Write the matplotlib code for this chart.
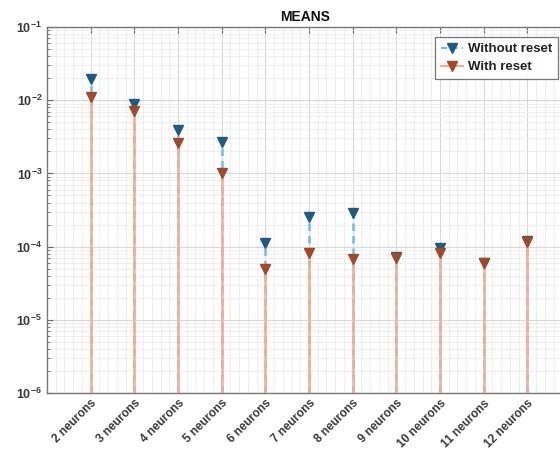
import numpy as np
import matplotlib.pyplot as plt
from matplotlib.ticker import LogLocator, MultipleLocator, NullFormatter

# Data
labels = ['2 neurons', '3 neurons', '4 neurons', '5 neurons', '6 neurons', '7 neurons',
          '8 neurons', '9 neurons', '10 neurons', '11 neurons', '12 neurons']
without_reset = [1.95e-2, 8.9e-3, 3.9e-3, 2.7e-3, 1.12e-4, 2.55e-4, 2.9e-4,
                 7.2e-5, 9.7e-5, 5.9e-5, 1.2e-4]
with_reset = [1.1e-2, 7.1e-3, 2.6e-3, 1.0e-3, 5.0e-5, 8.3e-5, 6.8e-5,
              7.0e-5, 8.3e-5, 6.0e-5, 1.17e-4]

BASE = 1e-6
TXT = '#3a3a3a'
BLUE_LINE = '#6cc0e8'
BLUE_FACE = '#1f5a85'
RED_LINE = '#f4ad96'
RED_FACE = '#a04a2c'

plt.rcParams['font.family'] = ['Liberation Sans', 'DejaVu Sans']

fig = plt.figure(figsize=(5.6, 4.61), dpi=100)
ax = fig.add_axes([47 / 560, 68 / 461, 524 / 560, 366 / 461])

x = np.arange(1, len(labels) + 1)

# blue stems (dashed) drawn first, red stems on top
for xi, v in zip(x, without_reset):
    ax.plot([xi, xi], [BASE, v], color=BLUE_LINE, lw=1.8, ls=(0, (3, 2)), zorder=2)
for xi, v in zip(x, with_reset):
    ax.plot([xi, xi], [BASE, v], color=RED_LINE, lw=1.8, zorder=3)

ax.plot(x, without_reset, ls='none', marker='v', ms=7.5, mfc=BLUE_FACE,
        mec=BLUE_FACE, zorder=4)
ax.plot(x, with_reset, ls='none', marker='v', ms=7.5, mfc=RED_FACE,
        mec=RED_FACE, zorder=5)

# legend proxies
h1, = ax.plot([], [], color=BLUE_LINE, ls=(0, (3, 2)), lw=1.5, marker='v', ms=7,
              mfc=BLUE_FACE, mec=BLUE_FACE)
h2, = ax.plot([], [], color=RED_LINE, lw=1.5, marker='v', ms=7,
              mfc=RED_FACE, mec=RED_FACE)
leg = ax.legend([h1, h2], ['Without reset', 'With reset'], loc='upper right',
                bbox_to_anchor=(558 / 560, 1 - 37 / 461), bbox_transform=fig.transFigure,
                prop={'weight': 'bold', 'size': 9.5}, frameon=True, fancybox=False,
                handlelength=1.6, handletextpad=0.4, borderpad=0.45, labelspacing=0.45,
                borderaxespad=0)
leg.get_frame().set_edgecolor('#555555')
leg.get_frame().set_linewidth(0.9)
for t in leg.get_texts():
    t.set_color('#222222')

ax.set_yscale('log')
ax.set_ylim(1e-6, 1e-1)
ax.set_xlim(0, 12)
ax.yaxis.set_major_locator(LogLocator(base=10, numticks=10))
ax.yaxis.set_minor_locator(LogLocator(base=10, subs=np.arange(2, 10), numticks=20))
ax.yaxis.set_minor_formatter(NullFormatter())

ax.set_xticks(x)
ax.set_xticklabels(labels, rotation=45, ha='right', rotation_mode='anchor',
                   fontsize=8.5, fontweight='bold', color=TXT)
ax.xaxis.set_minor_locator(MultipleLocator(0.2))
for lab in ax.get_yticklabels():
    lab.set_fontweight('bold')
    lab.set_color(TXT)
    lab.set_fontsize(9)

ax.grid(True, which='major', color='#d8d8d8', lw=0.8, zorder=0)
ax.grid(True, which='minor', color='#ececec', lw=0.6, zorder=0)
ax.set_axisbelow(True)

ax.tick_params(which='both', direction='in', top=True, right=True, colors='#666666',
               labelcolor=TXT)
ax.tick_params(which='major', length=4, width=0.8)
ax.tick_params(which='minor', length=2, width=0.6)
ax.tick_params(axis='x', which='minor', length=0)
ax.tick_params(axis='x', which='major', pad=3)
for s in ax.spines.values():
    s.set_color('#777777')
    s.set_linewidth(1.0)

ax.set_title('MEANS', fontsize=10, fontweight='bold', color='#111111', pad=4)
# centre the title over the visible part of the figure
ax.title.set_position(((305 - 47) / 524, 1.0))

fig.savefig('out.png', dpi=100)
